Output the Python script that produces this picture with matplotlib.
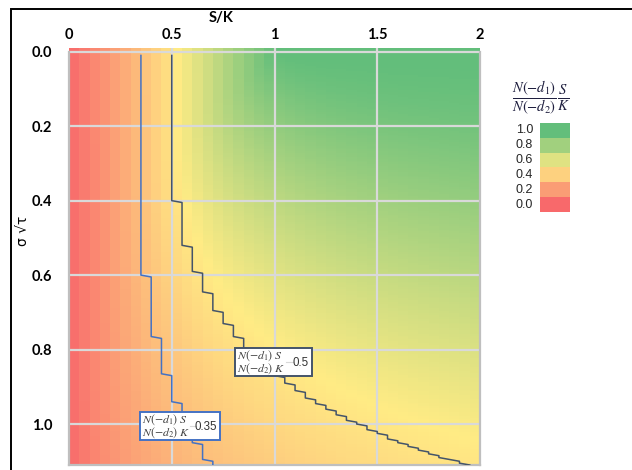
import math
import numpy as np
import matplotlib
matplotlib.use("Agg")
import matplotlib.pyplot as plt
from matplotlib.colors import LinearSegmentedColormap
from matplotlib.patches import Rectangle

# ---- data -----------------------------------------------------------------
x_ticks = [0, 0.5, 1, 1.5, 2]
x_tick_labels = ["0", "0.5", "1", "1.5", "2"]
y_ticks = [0.0, 0.2, 0.4, 0.6, 0.8, 1.0]
y_tick_labels = ["0.0", "0.2", "0.4", "0.6", "0.8", "1.0"]
s_over_k = np.round(np.arange(0.025, 2.0, 0.05), 4)        # column centres (S/K)
sigma_rows = np.round(np.arange(0.0, 1.1101, 0.005), 4)     # rows (sigma*sqrt(tau))
sigma_contour = np.round(np.arange(0.01, 1.1101, 0.005), 4)  # sampling of contour lines
contour_levels = [0.35, 0.5]
legend_values = [1.0, 0.8, 0.6, 0.4, 0.2, 0.0]
legend_labels = ["1.0", "0.8", "0.6", "0.4", "0.2", "0.0"]


def ratio(x, s):
    """N(-d1) S / (N(-d2) K) for x = S/K and s = sigma*sqrt(tau)."""
    if s == 0:
        return min(x, 1.0)
    d1 = (math.log(x) + 0.5 * s * s) / s
    d2 = d1 - s
    if d2 > 25:
        # asymptotic tail ratio (avoids 0/0 underflow)
        f = lambda d: (1 - 1 / d ** 2 + 3 / d ** 4) / d
        return f(d1) / f(d2)
    n1 = 0.5 * math.erfc(d1 / math.sqrt(2))
    n2 = 0.5 * math.erfc(d2 / math.sqrt(2))
    return x * n1 / n2


Z = np.array([[ratio(x, s) for x in s_over_k] for s in sigma_rows])

# ---- style ----------------------------------------------------------------
plt.rcParams["mathtext.fontset"] = "stix"
RED, YEL, GRN = "#F8696B", "#FFEB84", "#63BE7B"
cmap_map = LinearSegmentedColormap.from_list("m", [(0, RED), (0.53, YEL), (1, GRN)])
cmap_leg = LinearSegmentedColormap.from_list("l", [(0, RED), (0.5, YEL), (1, GRN)])

W, H = 632, 470
fig = plt.figure(figsize=(W / 100, H / 100), dpi=100)

# outer border of the chart object
fig.add_artist(Rectangle((11 / W, -0.2), 1.2, 1.2 - 9 / H, transform=fig.transFigure,
                         fill=False, edgecolor="black", linewidth=1.4))

L, R, T, B = 69, 480, 48, 465
ax = fig.add_axes([L / W, 1 - B / H, (R - L) / W, (B - T) / H])

dx = 0.05
x_edges = np.concatenate([s_over_k - dx / 2, [s_over_k[-1] + dx / 2]])
mids = (sigma_rows[:-1] + sigma_rows[1:]) / 2
y_edges = np.concatenate([[-0.01], mids, [1.11]])
ax.pcolormesh(x_edges, y_edges, Z, cmap=cmap_map, vmin=0, vmax=1, shading="flat",
              zorder=0, antialiased=False, linewidth=0)

ax.set_xlim(0, 2)
ax.set_ylim(1.11, -0.01)

# gridlines
for xv in x_ticks[1:-1]:
    ax.axvline(xv, color="#D9D9D9", lw=1.6, zorder=1)
for yv in y_ticks:
    ax.axhline(yv, color="#D9D9D9", lw=1.6, zorder=1)

for sp in ["left", "right", "bottom"]:
    ax.spines[sp].set_color("#BFBFBF")
    ax.spines[sp].set_linewidth(1.6)
ax.spines["left"].set_bounds(0, 1.11)
ax.spines["right"].set_bounds(0, 1.11)
ax.spines["top"].set_visible(False)

ax.xaxis.tick_top()
ax.set_xticks(x_ticks)
ax.set_xticklabels(x_tick_labels)
ax.set_yticks(y_ticks)
ax.set_yticklabels(y_tick_labels)
ax.tick_params(length=0)
ax.tick_params(axis="x", pad=4)
ax.tick_params(axis="y", pad=12)
for lab in ax.get_xticklabels() + ax.get_yticklabels():
    lab.set_fontfamily(["Lato", "DejaVu Sans"])
    lab.set_fontweight("bold")
    lab.set_fontsize(10.5)

# contour lines (boundary between columns below and above the level)
line_colors = {0.35: "#4472C4", 0.5: "#44546A"}
for lev in contour_levels:
    xs = []
    for s in sigma_contour:
        vals = [ratio(x, s) for x in s_over_k]
        idx = next((i for i, v in enumerate(vals) if v >= lev), len(vals))
        xs.append(x_edges[idx])
    ax.plot(xs, sigma_contour, color=line_colors[lev], lw=1.1, zorder=3,
            solid_joinstyle="round")

# contour labels
def contour_label(x0, x1, y0, y1, text, edge, dash0, dash1, text_right):
    ax.add_patch(Rectangle((x0, y0), x1 - x0, y1 - y0, facecolor="white",
                           edgecolor=edge, lw=1.4, zorder=4))
    ax.text(x0 + 0.008, y0 + (y1 - y0) * 0.27, r"$N(-d_1)\;S$", fontsize=8.6,
            color="#404040", va="center", ha="left", zorder=5)
    ax.text(x0 + 0.008, y0 + (y1 - y0) * 0.75, r"$N(-d_2)\;K$", fontsize=8.6,
            color="#404040", va="center", ha="left", zorder=5)
    ax.plot([dash0, dash1], [(y0 + y1) / 2] * 2, color="#D8D8D8", lw=0.8, zorder=5)
    ax.text(text_right, (y0 + y1) / 2 + 0.003, text, fontsize=8.3,
            color="#333333", va="center", ha="right",
            family=["Liberation Sans", "DejaVu Sans"], zorder=5)

contour_label(0.81, 1.184, 0.797, 0.871, "0.5", "#44546A", 1.058, 1.09, 1.168)
contour_label(0.345, 0.733, 0.968, 1.043, "0.35", "#4472C4", 0.588, 0.617, 0.722)

# axis titles
fig.text(221 / W, 1 - 18 / H, "S/K", ha="center", va="center", fontsize=10.5,
         fontweight="bold", family=["Lato", "DejaVu Sans"])
fig.text(23 / W, 1 - 231 / H, "σ √τ", ha="center", va="center", fontsize=10,
         rotation=90, family=["DejaVu Sans"])

# legend
fig.text(541 / W, 1 - 99 / H, r"$\frac{N(-d_1)}{N(-d_2)}\frac{S}{K}$",
         ha="center", va="center", fontsize=15, color="#1F1F3F")
lax = fig.add_axes([540 / W, 1 - 212 / H, 30 / W, 89 / H])
lax.imshow(np.array(legend_values).reshape(-1, 1), cmap=cmap_leg, vmin=0, vmax=1,
           aspect="auto", interpolation="nearest")
lax.axis("off")
for i, lab in enumerate(legend_labels):
    yc = 123 + (i + 0.5) * (89 / 6)
    fig.text(533 / W, 1 - yc / H, lab, ha="right", va="center", fontsize=9,
             color="#262626", family=["Liberation Sans", "DejaVu Sans"])

fig.savefig("out.png", dpi=100)
